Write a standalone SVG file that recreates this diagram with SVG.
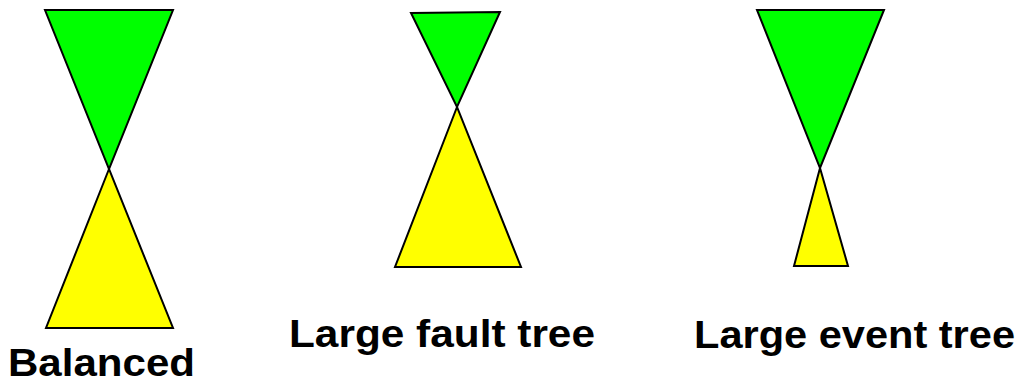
<svg xmlns="http://www.w3.org/2000/svg" width="1025" height="382" viewBox="0 0 1025 382">
<style>
.g{fill:#00ff00;stroke:#000;stroke-width:2;stroke-linejoin:miter}
.y{fill:#ffff00;stroke:#000;stroke-width:2;stroke-linejoin:miter}
.t{font-family:"Liberation Sans",Arial,sans-serif;font-weight:bold;font-size:38px;fill:#000}
</style>
<rect width="1025" height="382" fill="#fff"/>
<g id="balanced">
<polygon class="y" points="109,169 46,328 173,328"/>
<polygon class="g" points="45,10 173,10 109,169"/>
<text class="t" x="8" y="376" textLength="187" lengthAdjust="spacingAndGlyphs">Balanced</text>
</g>
<g id="large-fault-tree">
<polygon class="y" points="457,107 395,267 521,267"/>
<polygon class="g" points="411,13 500,12 457,107"/>
<text class="t" x="289" y="347" textLength="306" lengthAdjust="spacingAndGlyphs">Large fault tree</text>
</g>
<g id="large-event-tree">
<polygon class="y" points="820,168 794,266 848,266"/>
<polygon class="g" points="757,10 884,10 820,168"/>
<text class="t" x="694" y="348" textLength="321" lengthAdjust="spacingAndGlyphs">Large event tree</text>
</g>
<g id="connectors"></g>
</svg>
